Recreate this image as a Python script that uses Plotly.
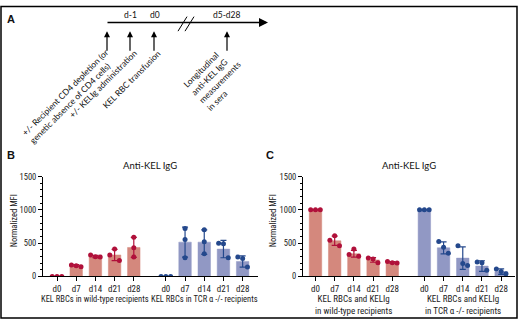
import plotly.graph_objects as go

W, H = 520, 326

# ---------------- data ----------------
days = ["d0", "d7", "d14", "d21", "d28"]

# Panel B: KEL RBCs alone
b_wt_mean = [0, 165, 300, 322, 435]
b_wt_sd = [0, 12, 17, 85, 150]
b_wt_pts = [[0, 0, 0], [170, 160, 145], [320, 295, 290], [320, 410, 240], [590, 430, 290]]

b_tcr_mean = [0, 515, 515, 410, 225]
b_tcr_sd = [0, 225, 185, 130, 85]
b_tcr_pts = [[0, 0, 0], [720, 555, 280], [700, 520, 340], [500, 490, 280], [290, 270, 140]]

# Panel C: KEL RBCs + KELIg
c_wt_mean = [1000, 535, 340, 248, 210]
c_wt_sd = [0, 70, 50, 35, 12]
c_wt_pts = [[1000, 1000, 1000], [545, 610, 462], [328, 411, 303], [278, 263, 204], [225, 205, 200]]

c_tcr_mean = [1000, 430, 275, 155, 72]
c_tcr_sd = [0, 90, 170, 80, 40]
c_tcr_pts = [[1000, 1000, 1000], [525, 437, 348], [462, 195, 165], [215, 205, 92], [110, 75, 40]]

b_groups = ["KEL RBCs in wild-type recipients", "KEL RBCs in TCR α -/- recipients"]
c_groups = ["KEL RBCs and KELIg<br>in wild-type recipients", "KEL RBCs and KELIg<br>in TCR α -/- recipients"]

# ---------------- style ----------------
RED_BAR = "#D4887D"
RED_DOT = "#B0103A"
BLUE_BAR = "#9198C4"
BLUE_DOT = "#24488C"
GAP = 5.67
SPREAD = [-0.25, 0.0, 0.25]
FONT_A = "Lato"
FONT_AX = "Liberation Sans Narrow, Roboto Condensed, Liberation Sans"

pos1 = list(range(5))
pos2 = [p + GAP for p in pos1]


def px(x):
    return x / W


def py(y):
    return 1 - y / H


fig = go.Figure()


def add_group(xs, means, sds, pts, bar_c, dot_c, xa, ya, offsets):
    fig.add_trace(go.Bar(
        x=xs, y=means, width=0.65, xaxis=xa, yaxis=ya,
        marker=dict(color=bar_c, line=dict(color=bar_c, width=0.5)),
        error_y=dict(type="data", array=sds, visible=True, color=dot_c,
                     thickness=1.2, width=3),
        showlegend=False, hoverinfo="skip"))
    sx, sy = [], []
    for x, vals, offs in zip(xs, pts, offsets):
        for v, o in zip(vals, offs):
            sx.append(x + o)
            sy.append(v)
    fig.add_trace(go.Scatter(
        x=sx, y=sy, mode="markers", xaxis=xa, yaxis=ya,
        marker=dict(color=dot_c, size=5), showlegend=False, hoverinfo="skip"))


C0 = [0, 0, 0]
add_group(pos1, b_wt_mean, b_wt_sd, b_wt_pts, RED_BAR, RED_DOT, "x", "y",
          [SPREAD, SPREAD, SPREAD, SPREAD, C0])
add_group(pos2, b_tcr_mean, b_tcr_sd, b_tcr_pts, BLUE_BAR, BLUE_DOT, "x", "y",
          [SPREAD, C0, C0, SPREAD, SPREAD])
add_group(pos1, c_wt_mean, c_wt_sd, c_wt_pts, RED_BAR, RED_DOT, "x2", "y2",
          [SPREAD, SPREAD, SPREAD, SPREAD, SPREAD])
add_group(pos2, c_tcr_mean, c_tcr_sd, c_tcr_pts, BLUE_BAR, BLUE_DOT, "x2", "y2",
          [SPREAD, SPREAD, SPREAD, SPREAD, SPREAD])

ydom = [py(280), py(177)]
common_x = dict(showline=True, linecolor="black", linewidth=1, ticks="outside",
                ticklen=4, tickwidth=1, tickcolor="black", showgrid=False, zeroline=False,
                tickvals=pos1 + pos2, ticktext=days + days,
                tickfont=dict(family=FONT_AX, size=9, color="#222"))
common_y = dict(showline=True, linecolor="black", linewidth=1, ticks="outside",
                ticklen=4, tickwidth=1, tickcolor="black", showgrid=False, zeroline=False,
                range=[0, 1500], tickvals=[0, 500, 1000, 1500], domain=ydom,
                minor=dict(dtick=100, ticks="outside", ticklen=2, tickcolor="black"),
                tickfont=dict(family=FONT_AX, size=8.5, color="#222"))

fig.update_layout(
    width=W, height=H, margin=dict(l=0, r=0, t=0, b=0),
    paper_bgcolor="white", plot_bgcolor="white", barmode="overlay",
    xaxis=dict(domain=[px(43), px(258)], range=[-0.73, 10.47], anchor="y", **common_x),
    yaxis=dict(anchor="x", **common_y),
    xaxis2=dict(domain=[px(303), px(515)], range=[-0.65, 10.39], anchor="y2", **common_x),
    yaxis2=dict(anchor="x2", **common_y),
)

ann = []


def txt(x, y, t, size=8.5, bold=False, family=FONT_A, **kw):
    d = dict(x=px(x), y=py(y), xref="paper", yref="paper", text=("<b>%s</b>" % t) if bold else t,
             showarrow=False, xanchor="center", yanchor="middle",
             font=dict(family=family, size=size, color="#111"))
    d.update(kw)
    ann.append(d)


# panel letters
txt(11, 14, "A", size=11, bold=True, family="Liberation Sans")
txt(11, 155, "B", size=11, bold=True, family="Liberation Sans")
txt(270, 155, "C", size=11, bold=True, family="Liberation Sans")

# titles
txt(150, 166, "Anti-KEL IgG", size=9.5)
txt(409, 166, "Anti-KEL IgG", size=9.5)

# y titles
txt(14, 223, "Normalized MFI", size=8.5, family=FONT_AX, textangle=-90)
txt(273, 223, "Normalized MFI", size=8.5, family=FONT_AX, textangle=-90)

# group labels
for xr, labels, ytop, lh in (("x", b_groups, 296, None), ("x2", c_groups, 296, 12)):
    for xc, lab in zip([2, 2 + GAP], labels):
        if lh:
            lab = lab.replace("<br>", "<br><span style='font-size:3px'> </span><br>") if False else lab
        ann.append(dict(x=xc, xref=xr, y=py(ytop), yref="paper", xanchor="center", yanchor="top",
                        text=lab, showarrow=False,
                        font=dict(family=FONT_AX, size=8.5 if lh is None else 9, color="#222")))

# timeline labels
txt(130, 10, "d-1")
txt(155, 10, "d0")
txt(227, 10, "d5-d28")

# main arrow
ann.append(dict(x=px(268), y=py(18), xref="paper", yref="paper", ax=-162, ay=0,
                text="", showarrow=True, arrowhead=2, arrowsize=1.2, arrowwidth=1.5,
                arrowcolor="black"))
for xx in (107, 130, 154, 227):
    ann.append(dict(x=px(xx), y=py(27), xref="paper", yref="paper", ax=0, ay=21,
                    text="", showarrow=True, arrowhead=2, arrowsize=1, arrowwidth=1.2,
                    arrowcolor="black"))

# rotated descriptions (anchored at block centres)
rot = dict(textangle=-45, align="left")
txt(69, 94, "+/- Recipient CD4 depletion (or<br>genetic absence of CD4 cells)", size=8.5, **rot)
txt(103, 81, "+/- KELIg administration", size=8.5, **rot)
txt(131, 77, "KEL RBC transfusion", size=8.5, **rot)
txt(216, 76, "Longitudinal<br>anti-KEL IgG<br>measurements<br>in sera", size=8.5, **rot)

shapes = [
    dict(type="line", xref="paper", yref="paper", x0=px(178), y0=py(27), x1=px(187), y1=py(12),
         line=dict(color="black", width=1)),
    dict(type="line", xref="paper", yref="paper", x0=px(185), y0=py(27), x1=px(194), y1=py(12),
         line=dict(color="black", width=1)),
    dict(type="rect", xref="paper", yref="paper", x0=px(1), y0=py(323), x1=px(517), y1=py(1.5),
         line=dict(color="black", width=1.5)),
]

fig.update_layout(annotations=ann, shapes=shapes)
fig.write_html("out.html", config={"displayModeBar": False},
               post_script="document.body.style.margin='0';document.body.style.overflow='hidden';")
